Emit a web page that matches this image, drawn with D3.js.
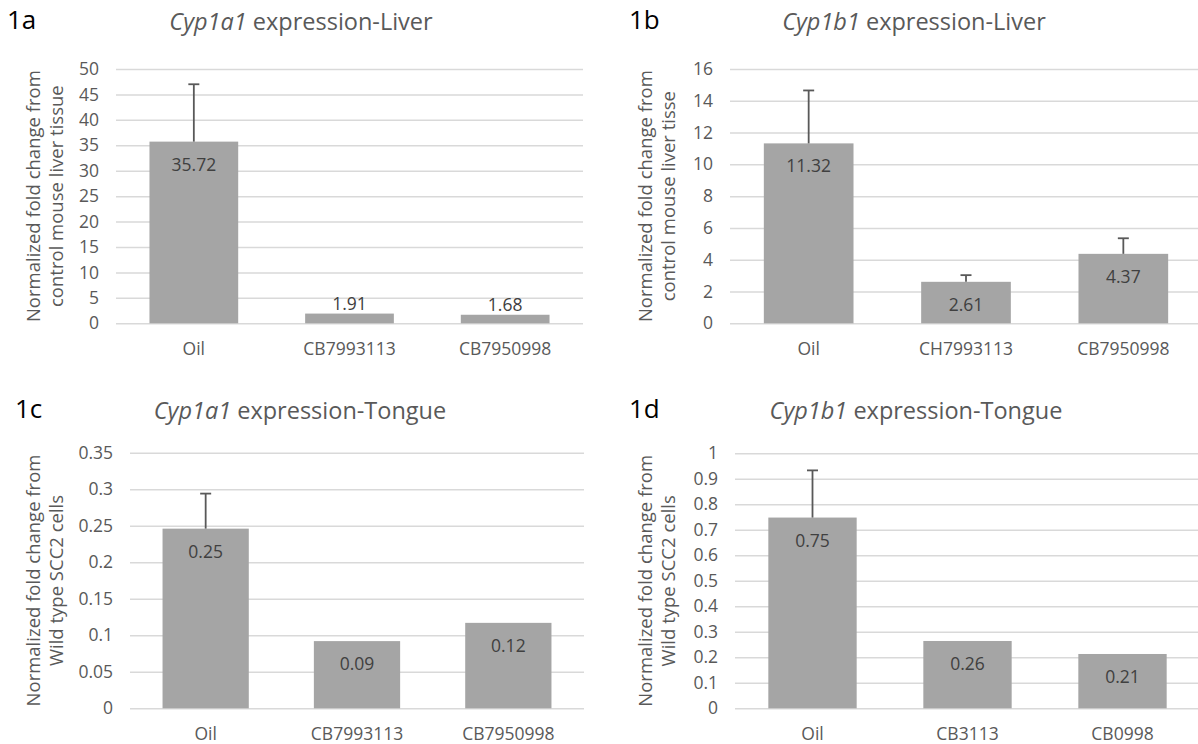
<!DOCTYPE html>
<html>
<head>
<meta charset="utf-8">
<script src="https://cdn.jsdelivr.net/npm/d3@7"></script>
<style>
  body { margin: 0; background: #fff; }
  svg { display: block; font-family: "Open Sans", sans-serif; }
</style>
</head>
<body>
<script>
// 1a  Cyp1a1 liver
var catsA = ["Oil", "CB7993113", "CB7950998"];
var valsA = [35.72, 1.91, 1.68];
var errsA = [11.28, 0, 0];
var ticksA = [0, 5, 10, 15, 20, 25, 30, 35, 40, 45, 50];

// 1b  Cyp1b1 liver
var catsB = ["Oil", "CH7993113", "CB7950998"];
var valsB = [11.32, 2.61, 4.37];
var errsB = [3.33, 0.42, 0.98];
var ticksB = [0, 2, 4, 6, 8, 10, 12, 14, 16];

// 1c  Cyp1a1 tongue
var catsC = ["Oil", "CB7993113", "CB7950998"];
var valsC = [0.246, 0.092, 0.117];
var errsC = [0.048, 0, 0];
var ticksC = [0, 0.05, 0.1, 0.15, 0.2, 0.25, 0.3, 0.35];

// 1d  Cyp1b1 tongue
var catsD = ["Oil", "CB3113", "CB0998"];
var valsD = [0.748, 0.264, 0.213];
var errsD = [0.185, 0, 0];
var ticksD = [0, 0.1, 0.2, 0.3, 0.4, 0.5, 0.6, 0.7, 0.8, 0.9, 1];

var svg = d3.select("body").append("svg")
    .attr("width", 1198)
    .attr("height", 744);

let drawPanel = function(p) {
    let g = svg.append("g");

    let x = d3.scaleBand()
        .domain(p.cats)
        .range([p.x0, p.x1])
        .paddingInner(0.43)
        .paddingOuter(0.215);

    let y = d3.scaleLinear()
        .domain([0, d3.max(p.ticks)])
        .range([p.y0, p.y1]);

    // gridlines + tick labels
    let axis = g.append("g")
        .attr("transform", "translate(" + p.x0 + ",0)")
        .call(d3.axisLeft(y)
            .tickValues(p.ticks)
            .tickFormat(function(d) { return String(d); })
            .tickSize(-(p.x1 - p.x0))
            .tickPadding(p.tpad));
    axis.select(".domain").remove();
    axis.selectAll(".tick line")
        .attr("stroke", "#d9d9d9")
        .attr("stroke-width", 1.5);
    axis.selectAll(".tick text")
        .attr("fill", "#595959")
        .attr("font-size", "17.5px")
        .attr("font-family", "Open Sans, sans-serif");

    // bars
    let data = p.cats.map(function(c, i) { return { c: c, v: p.vals[i], e: p.errs[i] }; });

    g.selectAll("rect.bar")
        .data(data)
        .enter()
        .append("rect")
        .attr("class", "bar")
        .attr("x", function(d) { return x(d.c); })
        .attr("width", x.bandwidth())
        .attr("y", function(d) { return y(d.v); })
        .attr("height", function(d) { return y(0) - y(d.v); })
        .attr("fill", "#a5a5a5");

    // error bars (plus only)
    let eb = g.selectAll("g.err")
        .data(data.filter(function(d) { return d.e > 0; }))
        .enter()
        .append("g")
        .attr("stroke", "#595959")
        .attr("stroke-width", 1.8);
    eb.append("line")
        .attr("x1", function(d) { return x(d.c) + x.bandwidth() / 2; })
        .attr("x2", function(d) { return x(d.c) + x.bandwidth() / 2; })
        .attr("y1", function(d) { return y(d.v); })
        .attr("y2", function(d) { return y(d.v + d.e); });
    eb.append("line")
        .attr("x1", function(d) { return x(d.c) + x.bandwidth() / 2 - 5.5; })
        .attr("x2", function(d) { return x(d.c) + x.bandwidth() / 2 + 5.5; })
        .attr("y1", function(d) { return y(d.v + d.e); })
        .attr("y2", function(d) { return y(d.v + d.e); });

    // value labels: inside end, above when the bar is too short
    g.selectAll("text.val")
        .data(data)
        .enter()
        .append("text")
        .attr("class", "val")
        .text(function(d) { return d.v.toFixed(2); })
        .attr("x", function(d) { return x(d.c) + x.bandwidth() / 2; })
        .attr("y", function(d) {
            let top = y(d.v);
            return (y(0) - top > 30) ? top + 29 : top - 4;
        })
        .attr("text-anchor", "middle")
        .attr("font-size", "17.5px")
        .attr("fill", "#404040");

    // category labels
    g.selectAll("text.cat")
        .data(p.cats)
        .enter()
        .append("text")
        .attr("class", "cat")
        .text(function(d) { return d; })
        .attr("x", function(d) { return x(d) + x.bandwidth() / 2; })
        .attr("y", p.y0 + 32)
        .attr("text-anchor", "middle")
        .attr("font-size", "17.5px")
        .attr("fill", "#595959");

    // y axis title, two lines
    let ty = (p.y0 + p.y1) / 2;
    p.ylab.forEach(function(line, i) {
        g.append("text")
            .text(line)
            .attr("transform", "translate(" + (p.ylx + i * 23) + "," + ty + ") rotate(-90)")
            .attr("text-anchor", "middle")
            .attr("font-size", "18.5px")
            .attr("fill", "#595959");
    });

    // chart title
    let t = g.append("text")
        .attr("x", p.tx)
        .attr("y", p.ty)
        .attr("text-anchor", "middle")
        .attr("font-size", "23.5px")
        .attr("fill", "#595959");
    t.append("tspan").attr("font-style", "italic").text(p.gene);
    t.append("tspan").text(" " + p.title);

    // panel label
    g.append("text")
        .text(p.tag)
        .attr("x", p.tagx)
        .attr("y", p.ty - 1)
        .attr("font-size", "26px")
        .attr("fill", "#000");
};

drawPanel({ cats: catsA, vals: valsA, errs: errsA, ticks: ticksA, tpad: 17,
    x0: 116, x1: 583, y0: 323.3, y1: 69,
    ylab: ["Normalized fold change from", "control mouse liver tissue"], ylx: 40,
    gene: "Cyp1a1", title: "expression-Liver", tx: 301, ty: 30, tag: "1a", tagx: 7 });

drawPanel({ cats: catsB, vals: valsB, errs: errsB, ticks: ticksB, tpad: 17,
    x0: 730, x1: 1202, y0: 323.3, y1: 69,
    ylab: ["Normalized fold change from", "control mouse liver tisse"], ylx: 652,
    gene: "Cyp1b1", title: "expression-Liver", tx: 914, ty: 30, tag: "1b", tagx: 629 });

drawPanel({ cats: catsC, vals: valsC, errs: errsC, ticks: ticksC, tpad: 17,
    x0: 130, x1: 584, y0: 708.3, y1: 452.7,
    ylab: ["Normalized fold change from", "Wild type SCC2 cells"], ylx: 40,
    gene: "Cyp1a1", title: "expression-Tongue", tx: 300, ty: 419, tag: "1c", tagx: 15 });

drawPanel({ cats: catsD, vals: valsD, errs: errsD, ticks: ticksD, tpad: 17,
    x0: 735, x1: 1200, y0: 708.3, y1: 453.3,
    ylab: ["Normalized fold change from", "Wild type SCC2 cells"], ylx: 652,
    gene: "Cyp1b1", title: "expression-Tongue", tx: 916, ty: 419, tag: "1d", tagx: 629 });
</script>
</body>
</html>
